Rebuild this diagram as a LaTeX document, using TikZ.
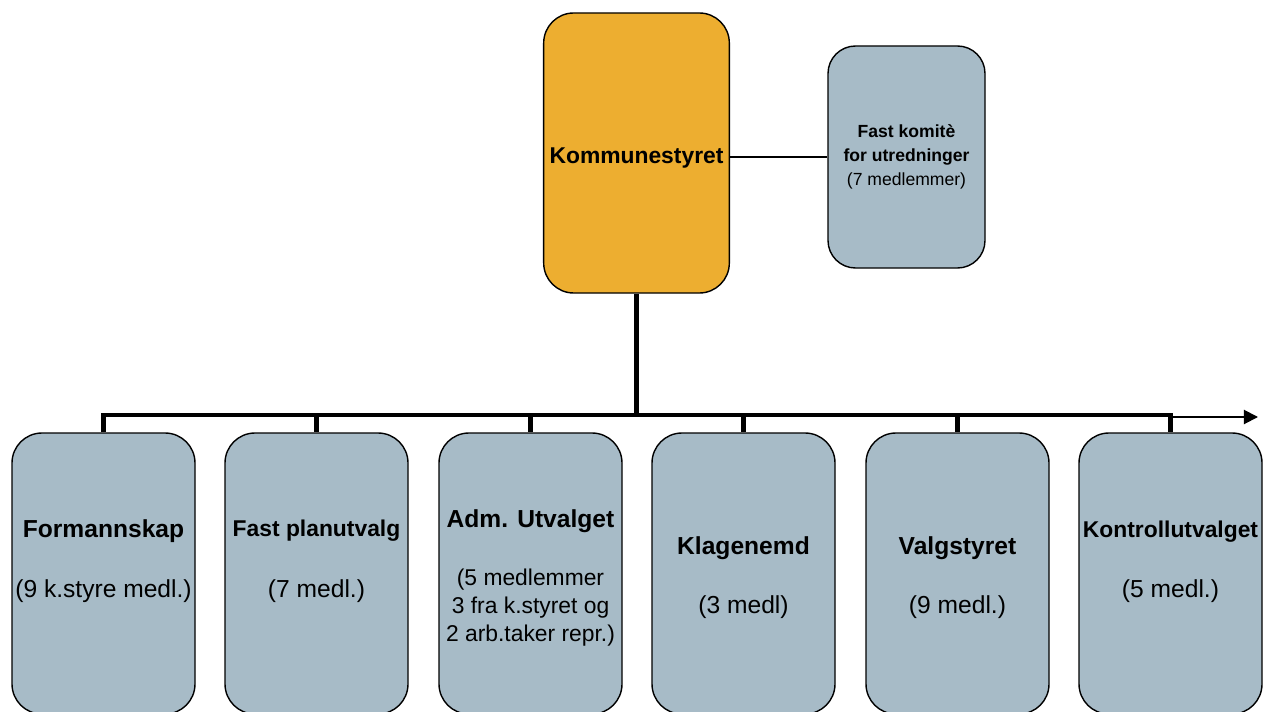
\documentclass[tikz,border=0pt]{standalone}
\usepackage{fontspec}
\setmainfont{Liberation Sans}
\usetikzlibrary{arrows.meta,positioning}
\definecolor{unitblue}{RGB}{167,187,199}
\definecolor{chiefgold}{RGB}{237,174,48}

\begin{document}
\begin{tikzpicture}[
    unit/.style={draw, rounded corners=0.6cm, minimum width=3.66cm, minimum height=5.62cm, fill=unitblue, line width=0.8pt},
    chief/.style={draw, rounded corners=0.6cm, minimum width=3.66cm, minimum height=5.6cm, fill=chiefgold, line width=0.8pt, align=center, font=\fontsize{13}{15}\selectfont\bfseries},
    cmte/.style={draw, rounded corners=0.55cm, minimum width=3.14cm, minimum height=4.44cm, fill=unitblue, line width=0.8pt, align=center, font=\fontsize{10}{13.6}\selectfont},
    ttl/.style={font=\fontsize{14}{16}\selectfont\bfseries, align=center, inner sep=0pt},
    sub/.style={font=\fontsize{14}{16}\selectfont, align=center, inner sep=0pt},
    bus/.style={line width=2.8pt},
    link/.style={line width=1.1pt},
    arr/.style={-{Triangle[length=8pt,width=8pt]}, line width=1.1pt}
]
\clip (0,0) rectangle (25.26,14.22);

\node[chief] (K) at (12.73,11.16) {\raisebox{-2.8pt}[\height][\depth]{Kommunestyret}};
\node[cmte] (C) at (18.13,11.08) {\textbf{Fast komitè}\\\textbf{for utredninger}\\(7 medlemmer)};

\node[unit] (F) at (2.07,2.75) {};
\node[unit] (P) at (6.33,2.75) {};
\node[unit] (A) at (10.61,2.75) {};
\node[unit] (Kl) at (14.87,2.75) {};
\node[unit] (V) at (19.15,2.75) {};
\node[unit] (Ko) at (23.41,2.75) {};

% titler og medlemstall
\node[ttl] (Ft) at ([yshift=0.85cm]F.center) {Formannskap};
\node[sub] (Fs) at ([yshift=-0.35cm]F.center) {(9 k.styre medl.)};
\node[ttl, font=\fontsize{13}{15}\selectfont\bfseries] (Pt) at ([yshift=0.85cm]P.center) {Fast planutvalg};
\node[sub] (Ps) at ([yshift=-0.35cm]P.center) {(7 medl.)};
\node[ttl] (At) at ([yshift=1.05cm]A.center) {Adm. Utvalget};
\node[sub, font=\fontsize{13}{15.9}\selectfont] (As) at ([yshift=-0.69cm]A.center) {(5 medlemmer\\3 fra k.styret og\\2 arb.taker repr.)};
\node[ttl] (Klt) at ([yshift=0.51cm]Kl.center) {Klagenemd};
\node[sub] (Kls) at ([yshift=-0.67cm]Kl.center) {(3 medl)};
\node[ttl] (Vt) at ([yshift=0.51cm]V.center) {Valgstyret};
\node[sub] (Vs) at ([yshift=-0.67cm]V.center) {(9 medl.)};
\node[ttl, font=\fontsize{13}{15}\selectfont\bfseries] (Kot) at ([yshift=0.83cm]Ko.center) {Kontrollutvalget};
\node[sub] (Kos) at ([yshift=-0.35cm]Ko.center) {(5 medl.)};

\coordinate (busy) at (0,5.92);
\coordinate (out) at (25.16,5.88);

\draw[link] (K.east |- C.west) -- (C.west);
\draw[bus] (K.south) -- (K.south |- busy);
\draw[bus] (F.north) -- (F.north |- busy) -- (Ko.north |- busy) -- (Ko.north);
\foreach \n in {P,A,Kl,V}
    \draw[bus] (\n.north |- busy) -- (\n.north);
\draw[arr] (Ko.north |- out) -- (out);
\end{tikzpicture}
\end{document}
